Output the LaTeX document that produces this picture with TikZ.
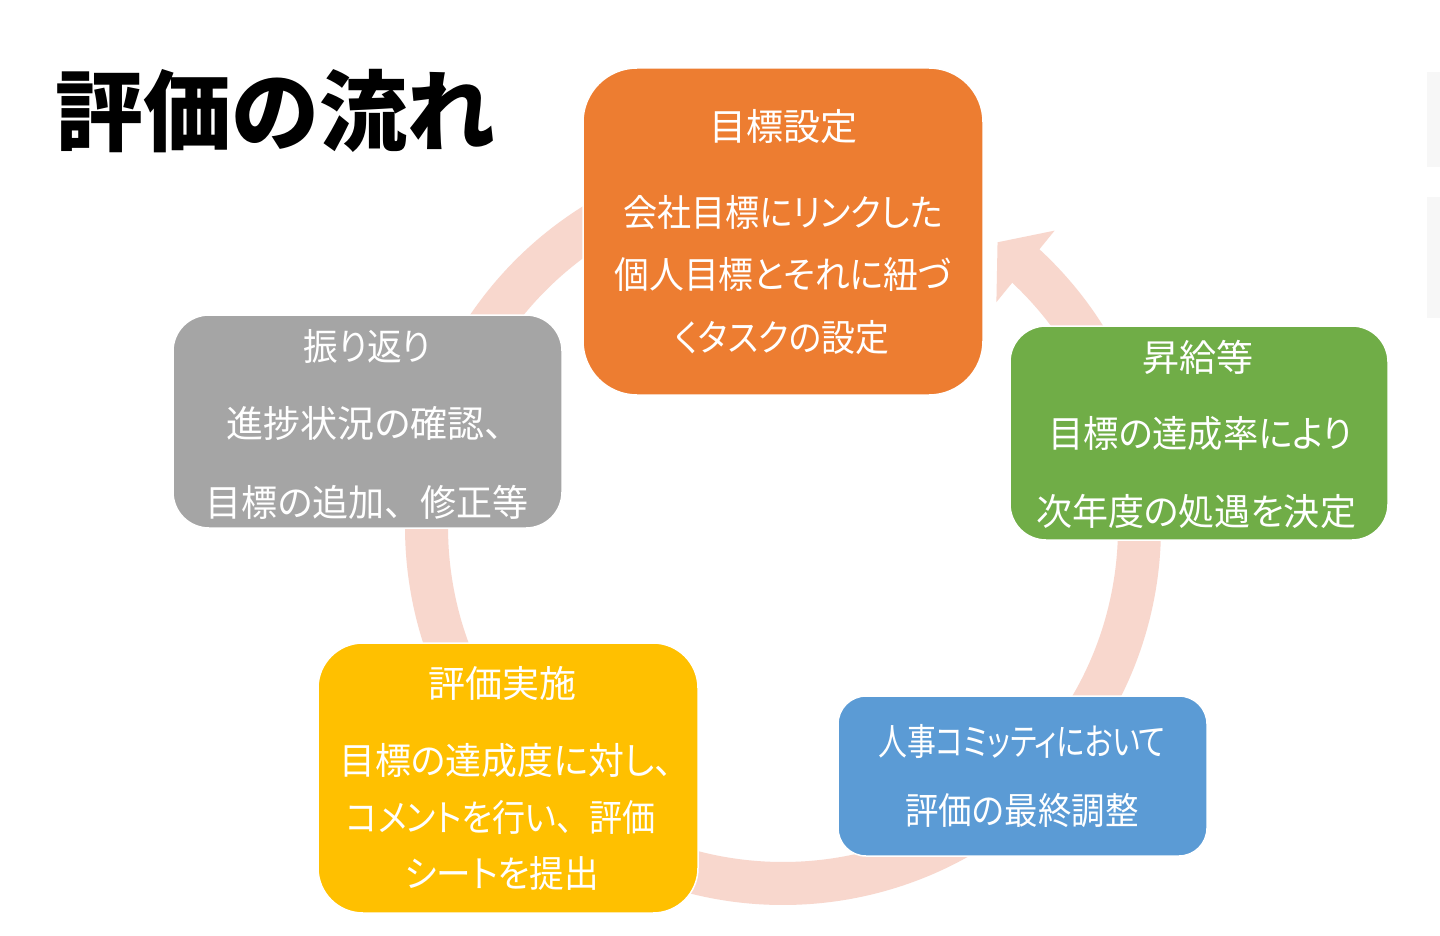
\documentclass[tikz,border=0pt]{standalone}
\usepackage{fontspec}
\usepackage{graphicx}
\newfontfamily\jp[RawFeature=+palt]{Noto Sans CJK JP}
\newfontfamily\jpn{Noto Sans CJK JP}
\newfontfamily\jptitle{Noto Sans CJK JP}
\usetikzlibrary{calc}
\newcommand{\fw}[2]{\resizebox{#1pt}{\height}{#2}}
\definecolor{ringc}{HTML}{F8D7CD}
\definecolor{corange}{HTML}{ED7D31}
\definecolor{cgray}{HTML}{A5A5A5}
\definecolor{cgreen}{HTML}{70AD47}
\definecolor{cyellow}{HTML}{FFC000}
\definecolor{cblue}{HTML}{5B9BD5}
\definecolor{faint}{HTML}{F7F7F7}
\begin{document}
\begin{tikzpicture}[x=1pt,y=-1pt,
  card/.style={draw=white, line width=1.5pt, inner sep=0pt, rectangle},
  txt/.style={text=white, font=\jp\fontsize{37}{37}\selectfont, inner sep=0pt, text height=32.6pt, text depth=4.4pt},
  ttl/.style={text=black, font=\jptitle\bfseries\fontsize{88}{88}\selectfont, inner sep=0pt, text height=77.4pt, text depth=10.6pt}
]
\useasboundingbox (0,0) rectangle (1440,936);
\fill[white] (0,0) rectangle (1440,936);
% faint shapes at right edge
\fill[faint] (1427,72) rectangle (1440,167);
\fill[faint] (1427,197) rectangle (1440,318);
% title
\node[ttl] (title) at (275,111) {評価の流れ};
% circular arrow
\coordinate (C) at (783,527);
\draw[ringc, line width=43pt] ($(C)+(-47.5:356.5)$) arc[start angle=-47.5, end angle=258, radius=356.5];
\fill[ringc] ($(C)+(-46.5:310)$) -- ($(C)+(-53:356.5)$) -- ($(C)+(-47.5:402)$) -- cycle;
% boxes
\node[card, fill=corange, rounded corners=54pt, minimum width=400pt, minimum height=327pt] (goal) at (783,231.5) {};
\node[card, fill=cgray, rounded corners=36pt, minimum width=389pt, minimum height=213pt] (review) at (367.5,421.5) {};
\node[card, fill=cgreen, rounded corners=36pt, minimum width=378pt, minimum height=214pt] (raise) at (1199,433) {};
\node[card, fill=cyellow, rounded corners=45pt, minimum width=380pt, minimum height=270pt] (eval) at (508,778) {};
\node[card, fill=cblue, rounded corners=28pt, minimum width=369pt, minimum height=160pt] (comm) at (1022.5,776) {};
% texts
\node[txt] (goal1) at (783,126) {目標設定};
\node[txt] (goal2) at (783,212) {\fw{319}{会社目標にリンクした}};
\node[txt] (goal3) at (783,274) {\fw{337}{個人目標とそれに紐づ}};
\node[txt] (goal4) at (782,337) {\fw{214}{くタスクの設定}};
\node[txt] (rev1) at (367,346) {\fw{127}{振り返り}};
\node[txt] (rev2) at (365,423) {進捗状況の確認、};
\node[txt] (rev3) at (367,502) {\fw{323}{目標の追加{\jpn 、}修正等}};
\node[txt] (rai1) at (1198,357) {昇給等};
\node[txt] (rai2) at (1200,433) {\fw{304}{目標の達成率により}};
\node[txt] (rai3) at (1196,511) {\fw{320}{次年度の処遇を決定}};
\node[txt] (ev1) at (502,683) {評価実施};
\node[txt] (ev2) at (506,760) {\fw{333}{目標の達成度に対し、}};
\node[txt] (ev3) at (501,817) {\fw{309}{コメントを行い{\jpn 、}評価}};
\node[txt] (ev4) at (502,873) {\fw{194}{シートを提出}};
\node[txt] (com1) at (1022,741) {\fw{287}{人事コミッティにおいて}};
\node[txt] (com2) at (1022,810) {\fw{233}{評価の最終調整}};
\end{tikzpicture}
\end{document}
